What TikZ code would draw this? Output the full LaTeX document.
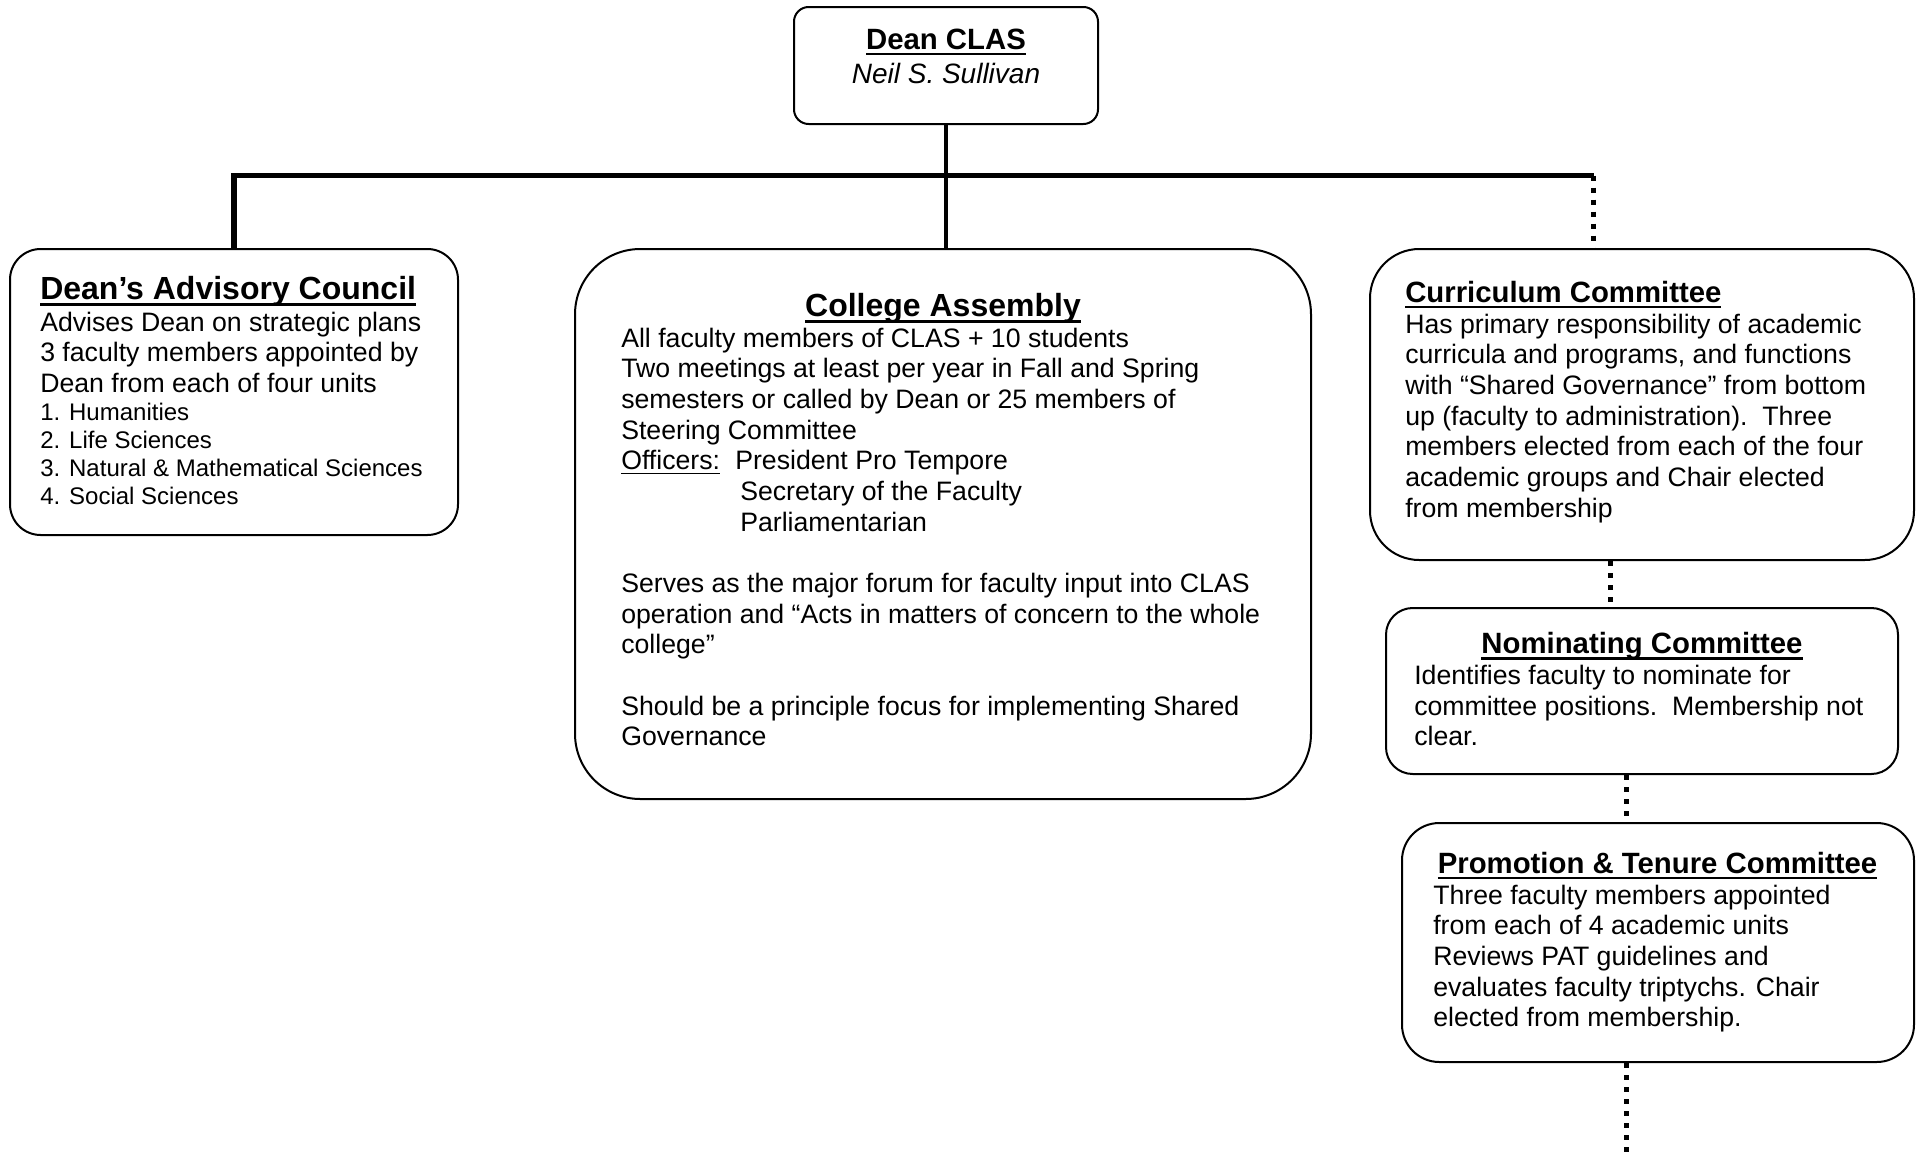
\documentclass[tikz,border=0pt]{standalone}
\usepackage{fontspec}
\setmainfont{Liberation Sans}
\usetikzlibrary{fit,calc}
\newcommand{\ulx}[1]{\setbox0=\hbox{#1}\rlap{\rule[-0.22em]{\wd0}{0.1em}}\box0}
\newcommand{\ulr}[1]{\setbox0=\hbox{#1}\rlap{\rule[-0.18em]{\wd0}{0.07em}}\box0}
\tikzset{
  box/.style={draw, line width=1.5pt, inner sep=0pt},
  bodytxt/.style={anchor=base west, inner sep=0pt, font=\fontsize{20}{23}\selectfont},
  listtxt/.style={anchor=base west, inner sep=0pt, font=\fontsize{18}{21}\selectfont},
  ttl/.style={inner sep=0pt, font=\fontsize{22}{26}\selectfont\bfseries},
  bigttl/.style={inner sep=0pt, font=\fontsize{24}{28}\selectfont\bfseries},
  bus/.style={line width=4.2pt, line join=miter},
  stem/.style={line width=3pt},
  dots/.style={line width=3.75pt, dash pattern=on 3.75pt off 5.25pt}
}
\begin{document}
\begin{tikzpicture}[x=0.75pt, y=-0.75pt]
\useasboundingbox (0,0) rectangle (1921,1153);
\fill[white] (0,0) rectangle (1921,1153);

% boxes
\node[box, rounded corners=11pt, fit={(794,7)(1098,124)}] (dean) {};
\node[box, rounded corners=23pt, fit={(10,249)(458,535)}] (dac) {};
\node[box, rounded corners=49pt, fit={(575,249)(1311,799)}] (ca) {};
\node[box, rounded corners=37pt, fit={(1370,249)(1914,560)}] (cc) {};
\node[box, rounded corners=20pt, fit={(1386,608)(1898,774)}] (nc) {};
\node[box, rounded corners=28pt, fit={(1402,823)(1914,1062)}] (pt) {};

% Dean text
\node[ttl, anchor=base] (deant) at (946,49) {\ulx{Dean CLAS}};
\node[inner sep=0pt, anchor=base, font=\fontsize{21}{25}\selectfont\itshape] (deann) at (946,83.5) {Neil S. Sullivan};

% Dean's Advisory Council
\node[bigttl, anchor=base west] (dact) at (40,299) {\ulx{Dean’s Advisory Council}};
\node[bodytxt] (dacb) at (40,331) {\begin{tabular}[t]{@{}l@{}}
Advises Dean on strategic plans\\
3 faculty members appointed by\\
Dean from each of four units
\end{tabular}};
\node[listtxt] (dacl) at (40,420) {\begin{tabular}[t]{@{}l@{}}
1. Humanities\\
2. Life Sciences\\
3. Natural \& Mathematical Sciences\\
4. Social Sciences
\end{tabular}};

% College Assembly
\node[bigttl, anchor=base] (cat) at (943,316) {\ulx{College Assembly}};
\node[bodytxt] (cab) at (621,347) {\begin{tabular}[t]{@{}l@{}}
All faculty members of CLAS + 10 students\\
Two meetings at least per year in Fall and Spring\\
semesters or called by Dean or 25 members of\\
Steering Committee\\
\makebox[85.5pt][l]{\ulr{Officers:}}President Pro Tempore\\
\hspace*{89.25pt}Secretary of the Faculty\\
\hspace*{89.25pt}Parliamentarian\\
\\
Serves as the major forum for faculty input into CLAS\\
operation and “Acts in matters of concern to the whole\\
college”\\
\\
Should be a principle focus for implementing Shared\\
Governance
\end{tabular}};

% Curriculum Committee
\node[ttl, anchor=base west] (cct) at (1405,302) {\ulx{Curriculum Committee}};
\node[bodytxt] (ccb) at (1405,333) {\begin{tabular}[t]{@{}l@{}}
Has primary responsibility of academic\\
curricula and programs, and functions\\
with “Shared Governance” from bottom\\
up (faculty to administration).\ \ Three\\
members elected from each of the four\\
academic groups and Chair elected\\
from membership
\end{tabular}};

% Nominating Committee
\node[ttl, anchor=base] (nct) at (1642,653.5) {\ulx{Nominating Committee}};
\node[bodytxt] (ncb) at (1414,684.5) {\begin{tabular}[t]{@{}l@{}}
Identifies faculty to nominate for\\
committee positions.\ \ Membership not\\
clear.
\end{tabular}};

% Promotion & Tenure Committee
\node[ttl, anchor=base] (ptt) at (1657.5,873) {\ulx{Promotion \& Tenure Committee}};
\node[bodytxt] (ptb) at (1433,904) {\begin{tabular}[t]{@{}l@{}}
Three faculty members appointed\\
from each of 4 academic units\\
Reviews PAT guidelines and\\
evaluates faculty triptychs. Chair\\
elected from membership.
\end{tabular}};

% connectors
\coordinate (busR) at (1593.5,175.5);
\draw[bus] (dac.north) |- (busR);
\draw[stem] (dean.south) -- (dean.south |- ca.north);
\draw[dots] (busR) -- (busR |- cc.north);
\coordinate (c1) at ($(cc.south)+(-32,0)$);
\draw[dots] (c1) -- (c1 |- nc.north);
\coordinate (c2) at ($(nc.south)+(-16,0)$);
\draw[dots] (c2) -- (c2 |- pt.north);
\coordinate (c3) at ($(pt.south)+(-32,0)$);
\coordinate (ptend) at (1626,1153);
\draw[dots] (c3) -- (c3 |- ptend);
\end{tikzpicture}
\end{document}
